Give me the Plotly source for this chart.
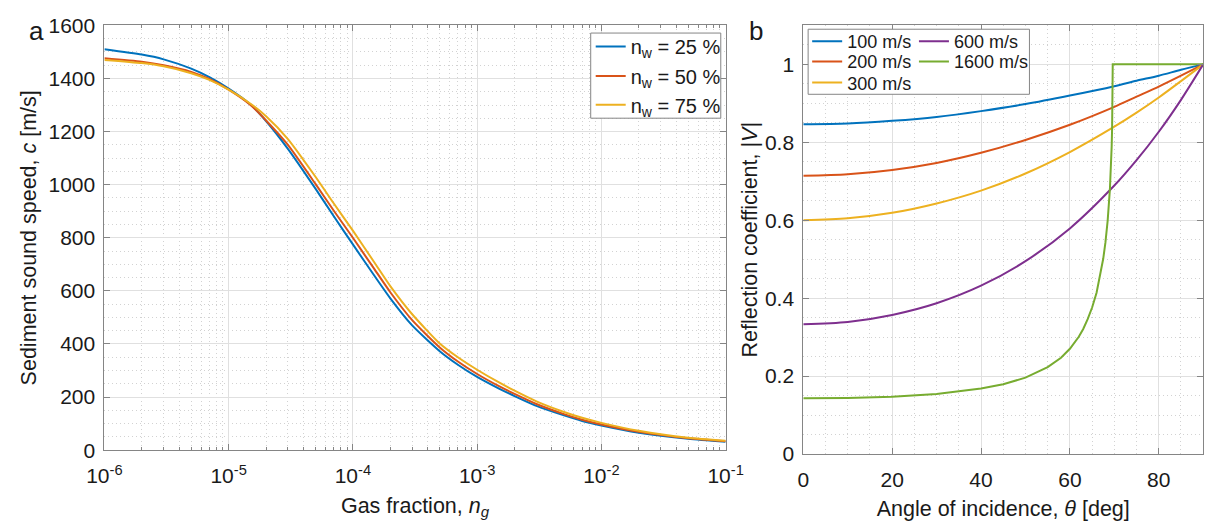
import plotly.graph_objects as go

# ---------------- panel a: sediment sound speed vs gas fraction ----------------
gas_fraction = [1e-6, 2e-6, 3e-6, 5e-6, 7e-6, 1e-5, 1.5e-5, 2e-5, 3e-5, 5e-5,
                7e-5, 1e-4, 1.5e-4, 2e-4, 3e-4, 5e-4, 7e-4, 1e-3, 1.5e-3, 2e-3,
                3e-3, 5e-3, 7e-3, 1e-2, 2e-2, 5e-2, 1e-1]
speed_nw25 = [1510, 1490, 1472, 1437, 1405, 1362, 1302, 1240, 1135, 985,
              882, 775, 655, 572, 470, 373, 322, 276, 232, 204,
              167, 131, 110, 93, 66, 43, 32]
speed_nw50 = [1476, 1463, 1450, 1425, 1398, 1358, 1300, 1242, 1150, 1003,
              903, 800, 680, 595, 490, 387, 334, 287, 241, 212,
              174, 136, 115, 97, 69, 45, 34]
speed_nw75 = [1470, 1458, 1446, 1420, 1395, 1358, 1305, 1258, 1172, 1030,
              930, 827, 705, 618, 512, 402, 350, 303, 255, 224,
              184, 144, 122, 103, 73, 47, 36]
porosity_labels = ["n<sub>w</sub> = 25 %", "n<sub>w</sub> = 50 %", "n<sub>w</sub> = 75 %"]

# ---------------- panel b: reflection coefficient vs incidence angle ----------------
angle = [0, 10, 20, 30, 40, 50, 60, 70, 75, 80, 85, 90]
refl_100 = [0.846, 0.848, 0.855, 0.865, 0.880, 0.898, 0.920, 0.944, 0.958, 0.971, 0.986, 1.0]
refl_200 = [0.714, 0.718, 0.729, 0.747, 0.773, 0.806, 0.845, 0.891, 0.917, 0.943, 0.971, 1.0]
refl_300 = [0.600, 0.605, 0.619, 0.643, 0.676, 0.720, 0.775, 0.840, 0.876, 0.915, 0.957, 1.0]
refl_600 = [0.333, 0.339, 0.357, 0.387, 0.432, 0.495, 0.579, 0.689, 0.754, 0.827, 0.909, 1.0]
angle_1600 = [0, 10, 20, 30, 40, 45, 50, 55, 58, 60, 62, 63, 64, 65, 66, 67,
              67.5, 68, 68.5, 69, 69.2, 69.4, 69.5, 69.6, 69.64, 90]
refl_1600 = [0.143, 0.144, 0.147, 0.154, 0.168, 0.179, 0.196, 0.223, 0.247, 0.270,
             0.301, 0.321, 0.346, 0.376, 0.414, 0.467, 0.501, 0.543, 0.599, 0.679,
             0.726, 0.789, 0.836, 0.913, 1.0, 1.0]
speed_labels = ["100 m/s", "200 m/s", "300 m/s", "600 m/s", "1600 m/s"]

# ---------------- styling ----------------
W, H = 1228, 532
FONT = "Liberation Sans, Arial, Helvetica, sans-serif"
TXT = "#1a1a1a"
AX = "#858585"
GRID = "#e0e0e0"
MINOR = "#d2d2d2"
DOT = "1px,3px"
BLUE, RED, YELLOW, PURPLE, GREEN = "#0072BD", "#D95319", "#EDB120", "#7E2F8E", "#77AC30"
LW = 2


def fx(p):
    return p / W


def fy(p):
    return 1 - p / H


fig = go.Figure()

for vals, name, col, leg in zip([speed_nw25, speed_nw50, speed_nw75], porosity_labels,
                                [BLUE, RED, YELLOW], ["legend", "legend2", "legend3"]):
    fig.add_trace(go.Scatter(x=gas_fraction, y=vals, name=name, mode="lines",
                             line=dict(color=col, width=LW, shape="spline", smoothing=0.6),
                             xaxis="x", yaxis="y", legend=leg))

right_series = [(angle, refl_100, BLUE, "legend4", "spline"),
                (angle, refl_200, RED, "legend5", "spline"),
                (angle, refl_300, YELLOW, "legend6", "spline"),
                (angle, refl_600, PURPLE, "legend7", "spline"),
                (angle_1600, refl_1600, GREEN, "legend8", "linear")]
for (xs, ys, col, leg, shp), name in zip(right_series, speed_labels):
    line = dict(color=col, width=LW, shape=shp)
    if shp == "spline":
        line["smoothing"] = 0.8
    fig.add_trace(go.Scatter(x=xs, y=ys, name=name, mode="lines", line=line,
                             xaxis="x2", yaxis="y2", legend=leg))

tickfont = dict(family=FONT, size=21, color=TXT)
titlefont = dict(family=FONT, size=21.5, color=TXT)

decades = [1e-6, 1e-5, 1e-4, 1e-3, 1e-2, 1e-1]
minor_log = [d * k for d in decades[:-1] for k in range(2, 10)]

common = dict(showline=True, linecolor=AX, linewidth=1, mirror="allticks",
              ticks="inside", tickcolor=AX, ticklen=6, showgrid=True,
              gridcolor=GRID, gridwidth=1, zeroline=False, tickfont=tickfont)

fig.update_layout(
    width=W, height=H, autosize=False,
    margin=dict(l=0, r=0, t=0, b=0),
    paper_bgcolor="white", plot_bgcolor="white",
    showlegend=True,
    xaxis=dict(domain=[fx(89), fx(729)], anchor="y", type="log", range=[-6, -1],
               tickmode="array", tickvals=decades,
               ticktext=["10<sup>-6</sup>", "10<sup>-5</sup>", "10<sup>-4</sup>",
                         "10<sup>-3</sup>", "10<sup>-2</sup>", "10<sup>-1</sup>"],
               ticklabelstandoff=7,
               minor=dict(tickmode="array", tickvals=minor_log, ticks="inside", ticklen=3,
                          tickcolor=AX, showgrid=True, gridcolor=MINOR, griddash=DOT),
               title=dict(text="Gas fraction, <i>n<sub>g</sub></i>", font=titlefont, standoff=11),
               **common),
    yaxis=dict(domain=[fy(458), fy(14)], anchor="x", range=[0, 1600],
               tickmode="linear", tick0=0, dtick=200, ticklabelstandoff=4,
               minor=dict(dtick=50, ticks="", showgrid=True, gridcolor=MINOR, griddash=DOT),
               title=dict(text="Sediment sound speed, <i>c</i> [m/s]", font=titlefont, standoff=5),
               **common),
    xaxis2=dict(domain=[fx(809), fx(1221)], anchor="y2", range=[0, 90],
                tickmode="array", tickvals=[0, 20, 40, 60, 80], ticklabelstandoff=7,
                minor=dict(dtick=5, ticks="", showgrid=True, gridcolor=MINOR, griddash=DOT),
                title=dict(text="Angle of incidence, <i>θ</i> [deg]", font=titlefont, standoff=10),
                **common),
    yaxis2=dict(domain=[fy(462), fy(14)], anchor="x2", range=[0, 1.1],
                tickmode="array", tickvals=[0, 0.2, 0.4, 0.6, 0.8, 1.0],
                ticktext=["0", "0.2", "0.4", "0.6", "0.8", "1"], ticklabelstandoff=4,
                minor=dict(dtick=0.05, ticks="", showgrid=True, gridcolor=MINOR, griddash=DOT),
                title=dict(text="Reflection coefficient, |<i>V</i>|", font=titlefont, standoff=1),
                **common),
)

# legend frames (white boxes behind the legend entries)
fig.add_shape(type="rect", xref="paper", yref="paper",
              x0=fx(590), x1=fx(724), y0=fy(111), y1=fy(22),
              line=dict(color=AX, width=1), fillcolor="white", layer="above")
fig.add_shape(type="rect", xref="paper", yref="paper",
              x0=fx(814), x1=fx(1042), y0=fy(86), y1=fy(18),
              line=dict(color=AX, width=1), fillcolor="white", layer="above")


def leg(xp, yp, size):
    return dict(x=fx(xp), y=fy(yp), xanchor="left", yanchor="middle", xref="paper", yref="paper",
                bgcolor="rgba(0,0,0,0)", borderwidth=0, itemwidth=30,
                font=dict(family=FONT, size=size, color=TXT))


fig.update_layout(
    legend=leg(590, 36, 20), legend2=leg(590, 67, 20), legend3=leg(590, 97, 20),
    legend4=leg(813, 31, 18), legend5=leg(813, 52, 18), legend6=leg(813, 74, 18),
    legend7=leg(923, 31, 18), legend8=leg(923, 52, 18),
)

fig.add_annotation(text="a", x=fx(19), y=fy(20), xref="paper", yref="paper",
                   xanchor="center", yanchor="middle", showarrow=False,
                   font=dict(family=FONT, size=26, color=TXT))
fig.add_annotation(text="b", x=fx(760), y=fy(20), xref="paper", yref="paper",
                   xanchor="center", yanchor="middle", showarrow=False,
                   font=dict(family=FONT, size=26, color=TXT))

fig.write_html("out.html")
